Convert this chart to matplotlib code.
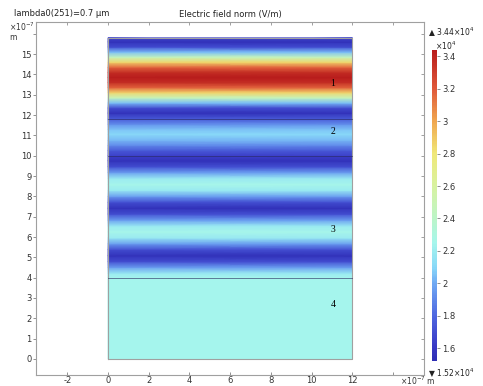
import numpy as np
import matplotlib
matplotlib.use('Agg')
import matplotlib.pyplot as plt
from matplotlib.colors import LinearSegmentedColormap

# electric field norm along y (x10^4 V/m), y in units of 1e-7 m
layer4_y = [0.0, 4.0]
layer4_E = [2.24, 2.24]
layer3_y = [4.21, 4.5, 4.79, 5.08, 5.38, 5.67, 5.96, 6.25, 6.54, 6.83, 7.13, 7.42,
            7.71, 8.0, 8.29, 8.58, 8.88, 9.17, 9.46, 9.75, 10.0]
layer3_E = [2.18, 1.97, 1.70, 1.55, 1.70, 1.97, 2.18, 2.26, 2.18, 1.97, 1.70, 1.55,
            1.70, 1.97, 2.18, 2.26, 2.18, 1.97, 1.70, 1.55, 1.64]
layer2_y = [10.25, 10.5, 10.75, 11.05, 11.3, 11.55, 11.8]
layer2_E = [1.74, 1.90, 2.03, 2.10, 2.05, 1.92, 1.75]
layer1_y = [12.1, 12.35, 12.6, 12.85, 13.1, 13.35, 13.6, 13.85, 14.1, 14.35, 14.6,
            14.85, 15.1, 15.35, 15.6, 15.8]
layer1_E = [1.55, 1.69, 2.04, 2.46, 2.86, 3.17, 3.37, 3.44, 3.37, 3.17, 2.86,
            2.46, 2.04, 1.69, 1.55, 1.65]

boundaries = [4.0, 10.0, 11.8]
domain_x = [0.0, 12.0]
domain_top = 15.8
layer_names = ['1', '2', '3', '4']
label_pos = [(11.05, 13.57), (11.05, 11.17), (11.05, 6.35), (11.05, 2.69)]

x_ticks = list(range(-2, 15, 2))
x_labels = ['-2', '0', '2', '4', '6', '8', '10', '12', '']
y_ticks = list(range(0, 17))
y_labels = [str(v) for v in range(0, 16)] + ['']

e_min, e_max = 1.52, 3.44
cbar_ticks = [1.6, 1.8, 2.0, 2.2, 2.4, 2.6, 2.8, 3.0, 3.2, 3.4]
cbar_labels = ['1.6', '1.8', '2', '2.2', '2.4', '2.6', '2.8', '3', '3.2', '3.4']

cmap = LinearSegmentedColormap.from_list('rainbowlight', [
  (0.0, '#2e2eb4'), (0.042, '#3838c4'), (0.146, '#4f68e0'), (0.25, '#70aaf4'),
  (0.30, '#88d8f8'), (0.38, '#a6f6ec'), (0.458, '#bcf5c8'), (0.5625, '#d8f2a0'),
  (0.667, '#f0e878'), (0.77, '#f0a850'), (0.875, '#e05a3a'), (1.0, '#b81c1c')])

y = np.array(layer4_y + layer3_y + layer2_y + layer1_y)
E = np.array(layer4_E + layer3_E + layer2_E + layer1_E)
C = np.column_stack([E, E])

fig = plt.figure(figsize=(4.83, 3.86), dpi=100)
ax = fig.add_axes([36/483, 1-375/386, 388/483, 353/386])
mesh = ax.pcolormesh(domain_x, y, C, shading='gouraud', cmap=cmap, vmin=e_min, vmax=e_max)

ax.plot([0, 12, 12, 0, 0], [0, 0, domain_top, domain_top, 0], color='#a0a0a0', lw=0.8)
for b in boundaries:
  ax.plot(domain_x, [b, b], color='#2a2a60', lw=0.6, alpha=0.7)
for name, (lx, ly) in zip(layer_names, label_pos):
  ax.text(lx, ly, name, fontsize=7, family='Liberation Serif', ha='center', va='center')

ax.set_xlim(-3.54, 15.52)
ax.set_ylim(-0.79, 16.58)
ax.set_xticks(x_ticks)
ax.set_xticklabels(x_labels)
ax.set_yticks(y_ticks)
ax.set_yticklabels(y_labels)
ax.tick_params(axis='y', labelsize=6, length=2, width=0.6, color='#808080', pad=1, labelcolor='#333333')
ax.tick_params(axis='x', direction='in', labelsize=6, length=2, width=0.6, color='#808080', pad=1,
               labelcolor='#333333')
for s in ax.spines.values():
  s.set_color('#a0a0a0')
  s.set_linewidth(0.8)
top = ax.secondary_xaxis('top')
top.set_xticks(x_ticks)
top.tick_params(direction='in', length=2, width=0.6, color='#909090', labeltop=False)
top.spines['top'].set_visible(False)
right = ax.secondary_yaxis('right')
right.set_yticks(y_ticks)
right.tick_params(direction='in', length=2, width=0.6, color='#909090', labelright=False)
right.spines['right'].set_visible(False)

fig.text(14/483, 1-14/386, 'lambda0(251)=0.7 µm', fontsize=6, va='center', color='#222222')
fig.text(230/483, 1-14/386, 'Electric field norm (V/m)', fontsize=6, ha='center', va='center', color='#222222')
fig.text(9/483, 1-21/386, r'$\times10^{-7}$' + '\nm', fontsize=5.5, va='top', color='#333333',
         linespacing=1.0)
fig.text(400/483, 1-381/386, r'$\times10^{-7}$ m', fontsize=5.5, va='center', color='#333333')

cax = fig.add_axes([432/483, 1-361/386, 5/483, 311/386])
cb = fig.colorbar(mesh, cax=cax)
cb.set_ticks(cbar_ticks)
cb.set_ticklabels(cbar_labels)
cb.outline.set_visible(False)
cax.tick_params(labelsize=6, length=2, width=0.5, color='#606060', pad=2, labelcolor='#333333')
fig.text(428/483, 1-26/386, r'▲ 3.44$\times10^4$' + '\n   ' + r'$\times10^4$', fontsize=5.5,
         va='top', color='#222222', linespacing=1.0)
fig.text(428/483, 1-373/386, r'▼ 1.52$\times10^4$', fontsize=5.5, va='center', color='#222222')

fig.savefig('out.png', dpi=100)
